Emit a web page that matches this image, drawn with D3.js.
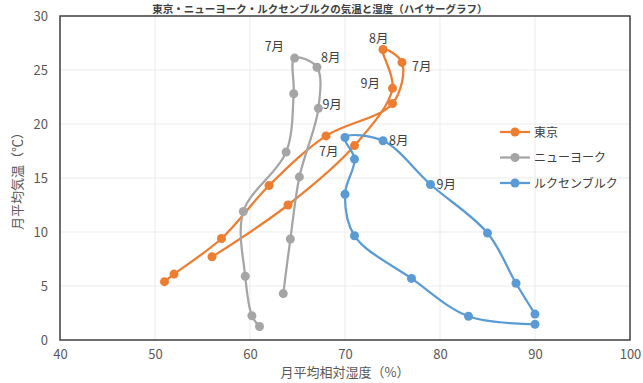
<!DOCTYPE html>
<html><head><meta charset="utf-8">
<script src="https://cdn.jsdelivr.net/npm/d3@7/dist/d3.min.js"></script>
<style>body{margin:0;background:#fff;}svg{display:block;font-family:"Noto Sans CJK JP","Noto Sans",sans-serif;}</style>
</head><body><svg id="c" width="643" height="383"></svg>
<script>
const months = ["1月","2月","3月","4月","5月","6月","7月","8月","9月","10月","11月","12月"];
const seriesNames = ["東京","ニューヨーク","ルクセンブルク"];
const tokyoHum = [51,52,57,62,68,75,76,74,75,71,64,56];
const tokyoTemp = [5.4,6.1,9.4,14.3,18.9,21.9,25.7,26.9,23.3,18.0,12.5,7.7];
const nyHum = [61.0,60.2,59.5,59.3,63.8,64.6,64.7,67.05,67.2,65.2,64.25,63.5];
const nyTemp = [1.25,2.25,5.9,11.9,17.4,22.8,26.1,25.25,21.45,15.1,9.35,4.3];
const luxHum = [90,83,77,71,70,71,70,74,79,85,88,90];
const luxTemp = [1.45,2.2,5.7,9.65,13.5,16.75,18.75,18.45,14.4,9.9,5.25,2.4];
const xTicks = [40,50,60,70,80,90,100];
const yTicks = [0,5,10,15,20,25,30];
const labeled = ["7月","8月","9月"];
const colors = ["#ED7D31","#A5A5A5","#5B9BD5"];

const svg = d3.select("#c");
const L=60,R=630,T=16,B=340;
const x = d3.scaleLinear().domain([40,100]).range([L,R]);
const y = d3.scaleLinear().domain([0,30]).range([B,T]);

// title
svg.append("text").attr("x",320).attr("y",12.5).attr("text-anchor","middle")
  .attr("font-size",10.5).attr("font-weight","bold").attr("fill","#404040")
  .text("東京・ニューヨーク・ルクセンブルクの気温と湿度（ハイサーグラフ）");

// grid
const g = svg.append("g");
g.selectAll(".gx").data(xTicks).enter().append("line")
  .attr("x1",d=>x(d)).attr("x2",d=>x(d)).attr("y1",T).attr("y2",B)
  .attr("stroke","#EBEBEB").attr("stroke-width",1);
g.selectAll(".gy").data(yTicks).enter().append("line")
  .attr("x1",L).attr("x2",R).attr("y1",d=>y(d)).attr("y2",d=>y(d))
  .attr("stroke","#EBEBEB").attr("stroke-width",1);

// axes (labels only)
const xa = svg.append("g").attr("transform",`translate(0,${B})`)
  .call(d3.axisBottom(x).tickValues(xTicks).tickSize(0).tickPadding(10));
const ya = svg.append("g").attr("transform",`translate(${L},0)`)
  .call(d3.axisLeft(y).tickValues(yTicks).tickSize(0).tickPadding(12));
[xa,ya].forEach(a=>{a.select(".domain").remove();
  a.selectAll("text").attr("font-size",13).attr("fill","#595959")
   .attr("font-family","'Noto Sans CJK JP','Noto Sans',sans-serif");});

// frame
svg.append("rect").attr("x",L).attr("y",T).attr("width",R-L).attr("height",B-T)
  .attr("fill","none").attr("stroke","#404040").attr("stroke-width",1.5);

// axis titles
svg.append("text").attr("x",345).attr("y",377).attr("text-anchor","middle")
  .attr("font-size",13).attr("fill","#595959").text("月平均相対湿度（%）");
svg.append("text").attr("transform","translate(22,178) rotate(-90)").attr("text-anchor","middle")
  .attr("font-size",13).attr("fill","#595959").text("月平均気温（℃）");

const data = [
  tokyoHum.map((h,i)=>({h,t:tokyoTemp[i],m:months[i]})),
  nyHum.map((h,i)=>({h,t:nyTemp[i],m:months[i]})),
  luxHum.map((h,i)=>({h,t:luxTemp[i],m:months[i]}))
];
const line = d3.line().x(d=>x(d.h)).y(d=>y(d.t)).curve(d3.curveCatmullRom.alpha(0.5));
data.forEach((s,k)=>{
  svg.append("path").attr("d",line(s)).attr("fill","none")
    .attr("stroke",colors[k]).attr("stroke-width",2.25);
  svg.selectAll(".p"+k).data(s).enter().append("circle")
    .attr("cx",d=>x(d.h)).attr("cy",d=>y(d.t)).attr("r",4.5).attr("fill",colors[k]);
});

// data label offsets (dx,dy from point) per series & month
const labelOff = [
  {"7月":[10,5],"8月":[-14,-10],"9月":[-32,-4]},
  {"7月":[-30,-11],"8月":[4,-9],"9月":[4,-3]},
  {"7月":[-26,14],"8月":[6,0],"9月":[6,1]}
];
data.forEach((s,k)=>{
  s.filter(d=>labeled.includes(d.m)).forEach(d=>{
    const o = labelOff[k][d.m];
    svg.append("text").attr("x",x(d.h)+o[0]).attr("y",y(d.t)+o[1]+4)
      .attr("font-size",12.5).attr("fill","#404040").text(d.m);
  });
});

// legend
const lg = svg.append("g");
seriesNames.forEach((n,k)=>{
  const yy = 132 + k*25.5;
  lg.append("line").attr("x1",500).attr("x2",530).attr("y1",yy).attr("y2",yy)
    .attr("stroke",colors[k]).attr("stroke-width",2.25);
  lg.append("circle").attr("cx",515).attr("cy",yy).attr("r",4.5).attr("fill",colors[k]);
  lg.append("text").attr("x",534).attr("y",yy+4.5).attr("font-size",12).attr("fill","#404040").text(n);
});
</script></body></html>
